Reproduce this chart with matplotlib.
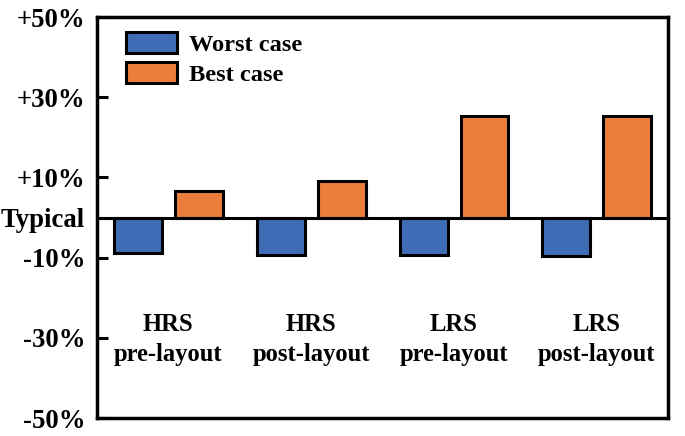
import matplotlib
matplotlib.use("Agg")
import matplotlib.pyplot as plt
import numpy as np

categories = ["HRS\npre-layout", "HRS\npost-layout", "LRS\npre-layout", "LRS\npost-layout"]
worst_case = [-8.9, -9.3, -9.3, -9.7]
best_case = [6.5, 9.0, 25.2, 25.4]
yticks = [-50, -30, -10, 0, 10, 30, 50]
ytick_labels = ["-50%", "-30%", "-10%", "Typical", "+10%", "+30%", "+50%"]
series_names = ["Worst case", "Best case"]

plt.rcParams['font.family'] = ['Liberation Serif', 'DejaVu Serif']
plt.rcParams['font.weight'] = 'bold'

fig = plt.figure(figsize=(6.85, 4.36), dpi=100)
ax = fig.add_axes([0.1416, 0.041, 0.9755 - 0.1416, 0.961 - 0.041])

x = np.arange(len(categories))
w = 0.335
off = 0.213
blue = "#3F6DB5"
orange = "#EB7E3A"
ax.bar(x - off, worst_case, w, color=blue, edgecolor="black", linewidth=2.2,
       label=series_names[0], zorder=2)
ax.bar(x + off, best_case, w, color=orange, edgecolor="black", linewidth=2.2,
       label=series_names[1], zorder=2)
ax.axhline(0, color="black", linewidth=2.2, zorder=3)

ax.set_xlim(-0.5, 3.5)
ax.set_ylim(-50, 50)
ax.set_xticks([])
ax.set_yticks(yticks)
ax.set_yticklabels(ytick_labels, fontsize=19.3, fontweight='bold')
ax.tick_params(axis='y', direction='in', length=8, width=2.2, pad=8.5)
for s in ax.spines.values():
    s.set_linewidth(2.5)

for xi, c in zip(x, categories):
    ax.text(xi, -30.4, c, ha='center', va='center', fontsize=17.7,
            fontweight='bold', linespacing=1.38)

leg = ax.legend(loc='upper left', bbox_to_anchor=(0.025, 1.0), frameon=False,
                fontsize=17.6, handlelength=2.1, handleheight=0.95,
                labelspacing=0.25, handletextpad=0.5, borderaxespad=0.2)
for p in leg.get_patches():
    p.set_linewidth(2.2)

fig.savefig("out.png", dpi=100)
